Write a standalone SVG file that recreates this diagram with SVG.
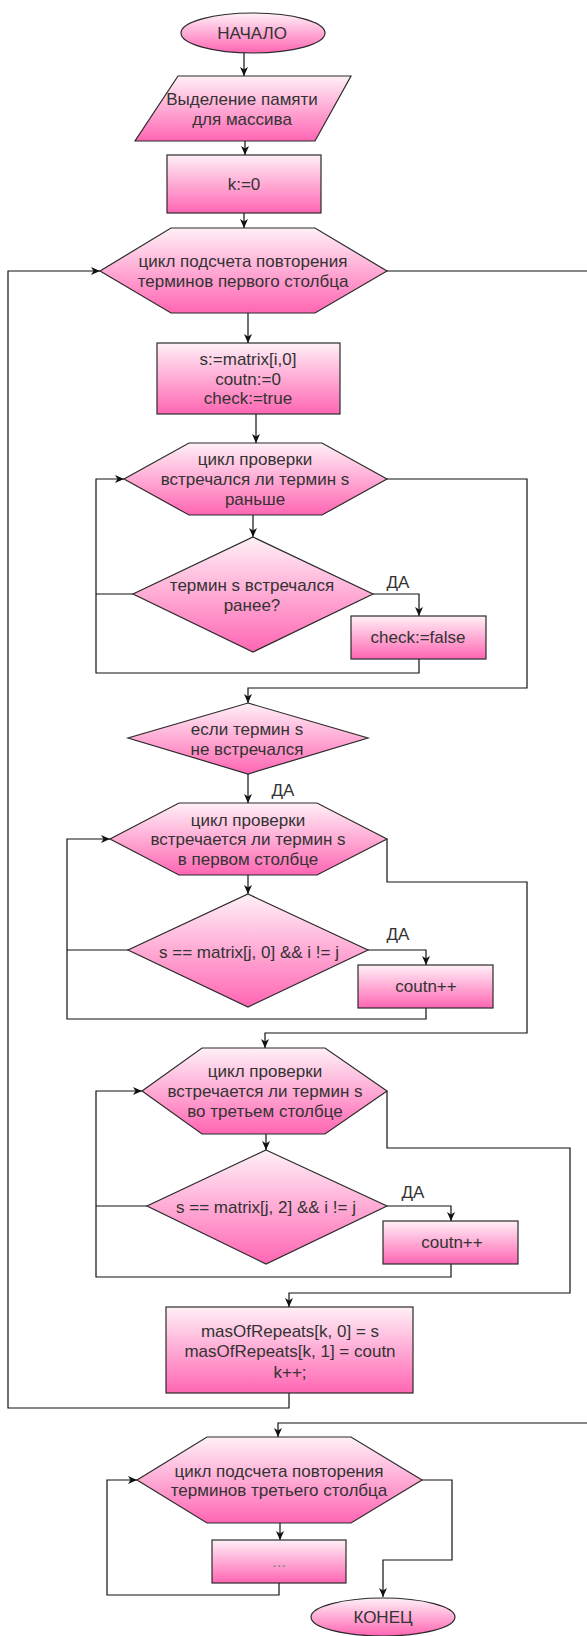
<svg xmlns="http://www.w3.org/2000/svg" width="587" height="1636" viewBox="0 0 587 1636">
  <defs>
    <linearGradient id="pink" x1="0" y1="0" x2="0" y2="1">
      <stop offset="0" stop-color="#fff0f7"/>
      <stop offset="1" stop-color="#ff66b3"/>
    </linearGradient>
    <marker id="arrow" markerUnits="userSpaceOnUse" markerWidth="10" markerHeight="9" refX="9" refY="4" orient="auto">
      <path d="M0,0 L9,4 L0,8 L2.5,4 z" fill="#111"/>
    </marker>
    <style>
      .shape { fill: url(#pink); stroke: #2b2b2b; stroke-width: 1.2; }
      .txt { font-family: "Liberation Sans", Arial, sans-serif; font-size: 17px; fill: #333; text-anchor: middle; }
      .lbl { font-family: "Liberation Sans", Arial, sans-serif; font-size: 17px; fill: #333; text-anchor: middle; }
      .edge { fill: none; stroke: #111; stroke-width: 1.2; }
      .arr { marker-end: url(#arrow); }
    </style>
  </defs>
  <rect width="587" height="1636" fill="#ffffff"/>

  <!-- connectors -->
  <g id="connectors">
    <path class="edge arr" d="M244,53 V76"/>
    <path class="edge arr" d="M245,141 V155"/>
    <path class="edge arr" d="M244,213 V228"/>
    <path class="edge arr" d="M248,313 V343"/>
    <path class="edge arr" d="M256,414 V443"/>
    <path class="edge arr" d="M253,515 V537"/>
    <path class="edge arr" d="M373,594 H419 V616"/>
    <path class="edge arr" d="M419,659 V673 H96 V479 H124"/>
    <path class="edge" d="M133,594 H96"/>
    <path class="edge arr" d="M387,479 H527 V688 H248 V703"/>
    <path class="edge arr" d="M248,774 V803"/>
    <path class="edge arr" d="M248,875 V894"/>
    <path class="edge arr" d="M368,950 H426 V965"/>
    <path class="edge arr" d="M426,1008 V1019 H67 V839 H110"/>
    <path class="edge" d="M128,950 H67"/>
    <path class="edge arr" d="M387,839 V882 H527 V1033 H265 V1048"/>
    <path class="edge arr" d="M266,1134 V1150"/>
    <path class="edge arr" d="M387,1206 H451 V1221"/>
    <path class="edge arr" d="M451,1264 V1277 H96 V1091 H142"/>
    <path class="edge" d="M147,1206 H96"/>
    <path class="edge arr" d="M387,1091 V1148 H570 V1293 H289 V1307"/>
    <path class="edge arr" d="M289,1393 V1408 H8 V271 H100"/>
    <path class="edge" d="M387,271 H587"/>
    <path class="edge arr" d="M587,1423 H278 V1437"/>
    <path class="edge arr" d="M280,1523 V1540"/>
    <path class="edge arr" d="M279,1583 V1595 H107 V1480 H137"/>
    <path class="edge arr" d="M422,1480 H452 V1560 H383 V1597"/>
    <text class="lbl" x="398" y="588">ДА</text>
    <text class="lbl" x="283" y="796">ДА</text>
    <text class="lbl" x="398" y="940">ДА</text>
    <text class="lbl" x="413" y="1198">ДА</text>
  </g>

  <g id="start">
    <ellipse class="shape" cx="253" cy="33" rx="72" ry="20"/>
    <text class="txt" x="252" y="39">НАЧАЛО</text>
  </g>

  <g id="alloc">
    <polygon class="shape" points="178,76 351,76 315,141 135,141"/>
    <text class="txt" x="242" y="105">Выделение памяти</text>
    <text class="txt" x="242" y="125">для массива</text>
  </g>

  <g id="init-k">
    <rect class="shape" x="167" y="155" width="154" height="58"/>
    <text class="txt" x="244" y="190">k:=0</text>
  </g>

  <g id="loop-first-column">
    <polygon class="shape" points="171,228 315,228 387,271 315,313 171,313 100,271"/>
    <text class="txt" x="243" y="267">цикл подсчета повторения</text>
    <text class="txt" x="243" y="287">терминов первого столбца</text>
  </g>

  <g id="init-s">
    <rect class="shape" x="157" y="343" width="183" height="71"/>
    <text class="txt" x="248" y="365">s:=matrix[i,0]</text>
    <text class="txt" x="248" y="385">coutn:=0</text>
    <text class="txt" x="248" y="404">check:=true</text>
  </g>

  <g id="loop-seen-before">
    <polygon class="shape" points="189,443 322,443 387,479 322,515 189,515 124,479"/>
    <text class="txt" x="255" y="465">цикл проверки</text>
    <text class="txt" x="255" y="485">встречался ли термин s</text>
    <text class="txt" x="255" y="505">раньше</text>
  </g>

  <g id="cond-seen">
    <polygon class="shape" points="253,537 373,594 253,652 133,594"/>
    <text class="txt" x="252" y="591">термин s встречался</text>
    <text class="txt" x="252" y="611">ранее?</text>
  </g>

  <g id="set-check-false">
    <rect class="shape" x="351" y="616" width="135" height="43"/>
    <text class="txt" x="418" y="643">check:=false</text>
  </g>

  <g id="cond-not-seen">
    <polygon class="shape" points="248,703 368,738 248,774 128,738"/>
    <text class="txt" x="247" y="735">если термин s</text>
    <text class="txt" x="247" y="755">не встречался</text>
  </g>

  <g id="loop-first-col-check">
    <polygon class="shape" points="179,803 317,803 387,839 317,875 179,875 110,839"/>
    <text class="txt" x="248" y="826">цикл проверки</text>
    <text class="txt" x="248" y="845">встречается ли термин s</text>
    <text class="txt" x="248" y="865">в первом столбце</text>
  </g>

  <g id="cond-col0">
    <polygon class="shape" points="248,894 368,950 248,1007 128,950"/>
    <text class="txt" x="249" y="958">s == matrix[j, 0] &amp;&amp; i != j</text>
  </g>

  <g id="inc-col0">
    <rect class="shape" x="358" y="965" width="135" height="43"/>
    <text class="txt" x="426" y="992">coutn++</text>
  </g>

  <g id="loop-third-col-check">
    <polygon class="shape" points="202,1048 325,1048 387,1091 325,1134 202,1134 142,1091"/>
    <text class="txt" x="265" y="1077">цикл проверки</text>
    <text class="txt" x="265" y="1097">встречается ли термин s</text>
    <text class="txt" x="265" y="1117">во третьем столбце</text>
  </g>

  <g id="cond-col2">
    <polygon class="shape" points="266,1150 387,1206 266,1264 147,1206"/>
    <text class="txt" x="266" y="1213">s == matrix[j, 2] &amp;&amp; i != j</text>
  </g>

  <g id="inc-col2">
    <rect class="shape" x="383" y="1221" width="135" height="43"/>
    <text class="txt" x="452" y="1248">coutn++</text>
  </g>

  <g id="store-repeats">
    <rect class="shape" x="166" y="1307" width="247" height="86"/>
    <text class="txt" x="290" y="1337">masOfRepeats[k, 0] = s</text>
    <text class="txt" x="290" y="1357">masOfRepeats[k, 1] = coutn</text>
    <text class="txt" x="290" y="1378">k++;</text>
  </g>

  <g id="loop-third-column">
    <polygon class="shape" points="207,1437 351,1437 422,1480 351,1523 207,1523 137,1480"/>
    <text class="txt" x="279" y="1477">цикл подсчета повторения</text>
    <text class="txt" x="279" y="1496">терминов третьего столбца</text>
  </g>

  <g id="body-third">
    <rect class="shape" x="212" y="1540" width="134" height="43"/>
    <text class="txt" x="279" y="1567" style="fill:#888">...</text>
  </g>

  <g id="end">
    <ellipse class="shape" cx="383" cy="1617" rx="72" ry="19"/>
    <text class="txt" x="383" y="1623">КОНЕЦ</text>
  </g>
</svg>
